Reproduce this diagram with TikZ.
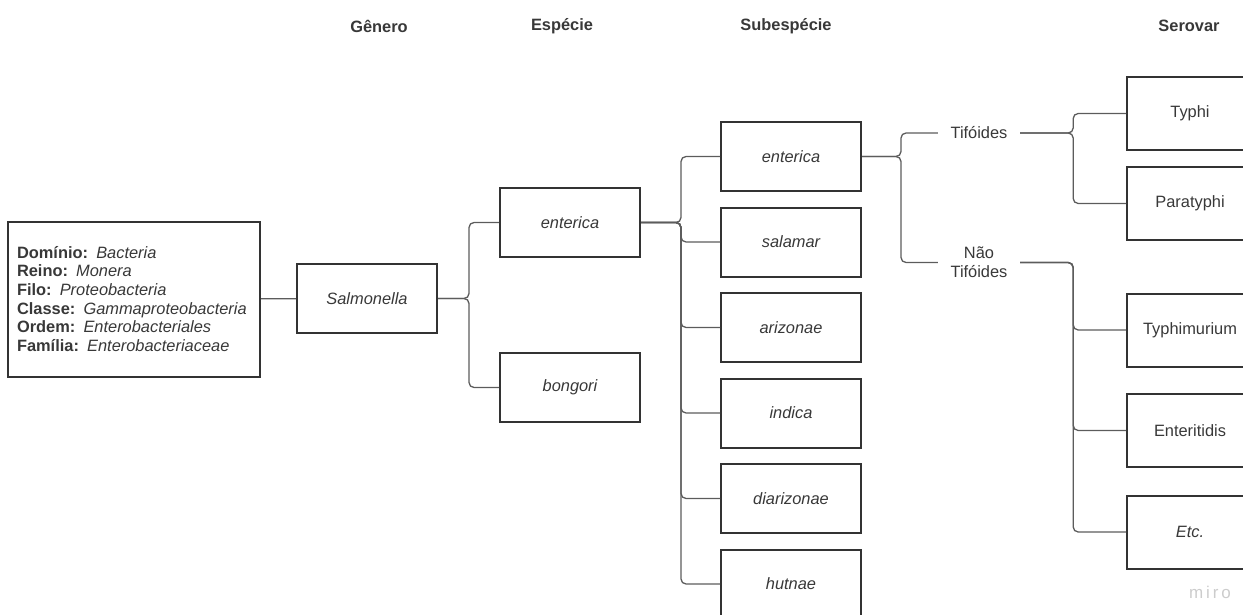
\documentclass[tikz,border=0pt]{standalone}
\usepackage{fontspec}
\setmainfont{Liberation Sans}
\usetikzlibrary{positioning}
\definecolor{boxline}{HTML}{333333}
\definecolor{linkline}{HTML}{5C5C5C}
\definecolor{txt}{HTML}{383838}

\begin{document}
\begin{tikzpicture}[
  x=1pt, y=-1pt,
  font=\fontsize{16.4}{18.7}\selectfont,
  box/.style={draw=boxline, line width=2pt, minimum width=140pt, minimum height=69pt, inner sep=0pt, text=txt, font=\fontsize{16.4}{18.7}\selectfont\itshape},
  serobox/.style={box, minimum width=126pt, minimum height=73pt, font=\fontsize{16.4}{18.7}\selectfont},
  head/.style={text=txt, font=\fontsize{16.4}{18.7}\selectfont\bfseries},
  group/.style={text=txt, align=center, minimum width=82pt, inner sep=0pt},
  link/.style={draw=linkline, line width=1.3pt, rounded corners=5pt}
]
\useasboundingbox (0,0) rectangle (1243,615);
\clip (0,0) rectangle (1243,615);

% column titles
\node[head] (hgen) at (379,26) {Gênero};
\node[head] (hesp) at (562,26) {Espécie};
\node[head] (hsub) at (786,26) {Subespécie};
\node[head] (hser) at (1189,26) {Serovar};

% classification
\node[box, minimum width=252pt, minimum height=155pt, text width=234pt, inner xsep=9pt, align=left, font=\fontsize{16.4}{18.7}\selectfont] (tax) at (134,299) {%
  \textbf{Domínio:} \textit{Bacteria}\\
  \textbf{Reino:} \textit{Monera}\\
  \textbf{Filo:} \textit{Proteobacteria}\\
  \textbf{Classe:} \textit{Gammaproteobacteria}\\
  \textbf{Ordem:} \textit{Enterobacteriales}\\
  \textbf{Família:} \textit{Enterobacteriaceae}};
\node[box] (salm) at (367,298.5) {Salmonella};

% species
\node[box] (spent) at (570,222.5) {enterica};
\node[box] (bon) at (570,387.5) {bongori};

% subspecies
\node[box] (sent) at (791,156.5) {enterica};
\node[box] (sal) at (791,242) {salamar};
\node[box] (ari) at (791,327.5) {arizonae};
\node[box] (ind) at (791,413) {indica};
\node[box] (dia) at (791,498.5) {diarizonae};
\node[box] (hut) at (791,584) {hutnae};

% groups
\node[group] (tif) at (979,133) {Tifóides};
\node[group] (ntif) at (979,262.5) {Não\\Tifóides};

% serovars
\node[serobox] (typhi) at (1190,113.5) {Typhi};
\node[serobox] (para) at (1190,203.5) {Paratyphi};
\node[serobox] (tym) at (1190,330) {Typhimurium};
\node[serobox] (ent) at (1190,430.5) {Enteritidis};
\node[serobox, font=\fontsize{16.4}{18.7}\selectfont\itshape] (etc) at (1190,532) {Etc.};

\node[text=gray!40, font=\fontsize{17}{20}\selectfont] (miro) at (1210,592) {m\,i\,r\,o};

% connectors
\draw[link] (tax) -- (salm);
\foreach \s in {spent,bon}
  \draw[link] (salm.east) -- ++(31,0) |- (\s.west);
\foreach \s in {sent,sal,ari,ind,dia,hut}
  \draw[link] (spent.east) -- ++(40,0) |- (\s.west);
\foreach \s in {tif,ntif}
  \draw[link] (sent.east) -- ++(39,0) |- (\s.west);
\foreach \s in {typhi,para}
  \draw[link] (tif.east) -- ++(53,0) |- (\s.west);
\foreach \s in {tym,ent,etc}
  \draw[link] (ntif.east) -- ++(53,0) |- (\s.west);
\end{tikzpicture}
\end{document}
